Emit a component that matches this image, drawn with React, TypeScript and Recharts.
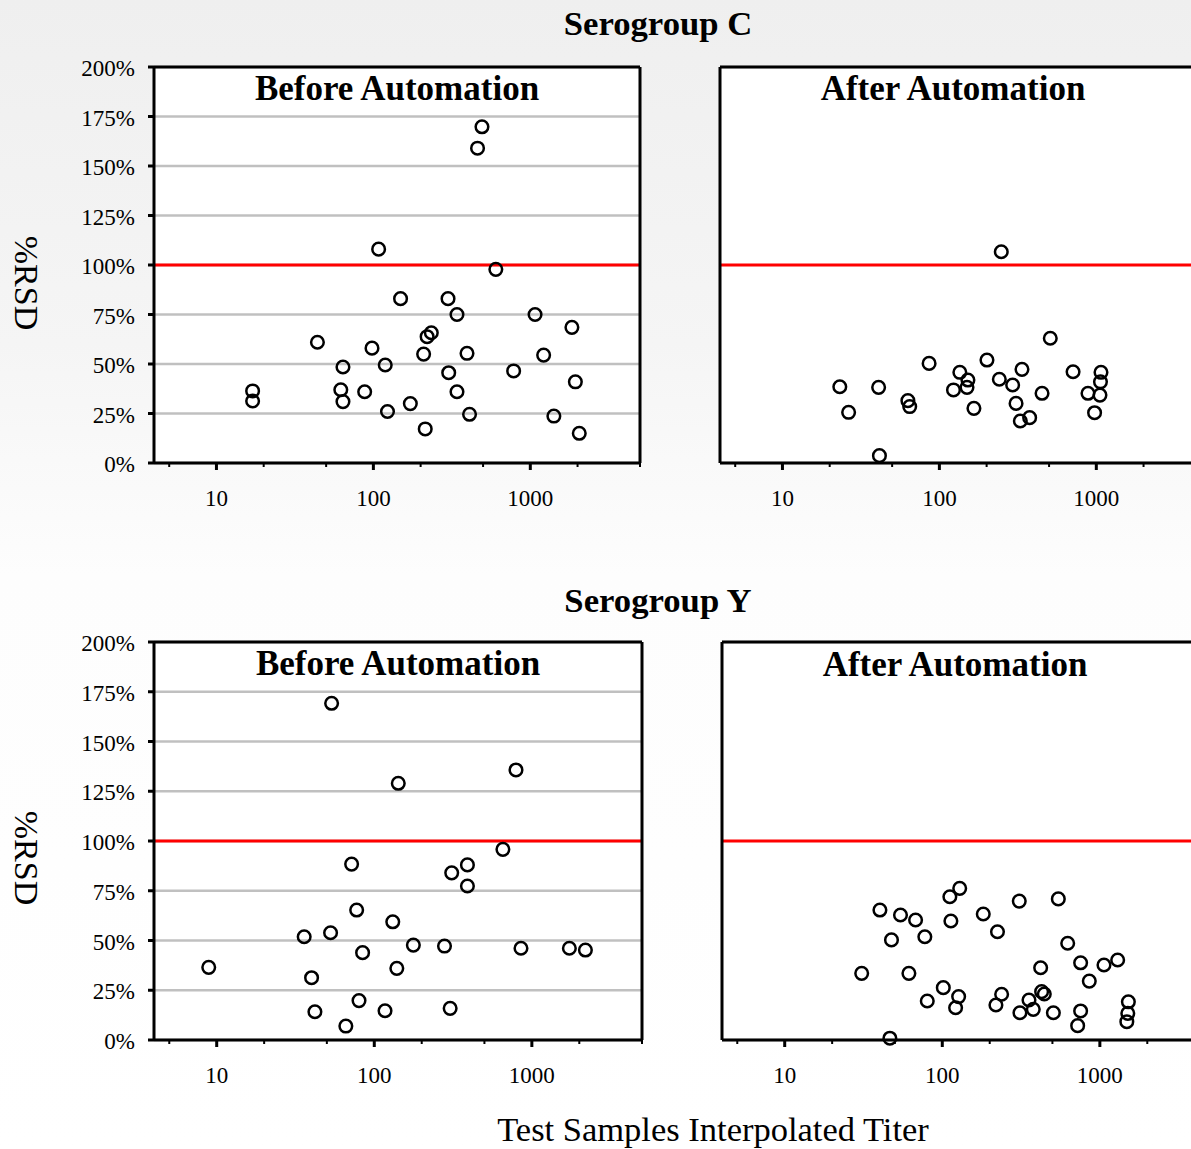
import React from 'react'
import {
  ScatterChart,
  Scatter,
  XAxis,
  YAxis,
  CartesianGrid,
  ReferenceLine,
} from 'recharts'

type Pt = { titer: number; rsd: number }

// Serogroup C, before automation
const cBefore: Pt[] = [
  { titer: 17, rsd: 36.4 }, { titer: 17, rsd: 31.3 }, { titer: 44, rsd: 61 },
  { titer: 64, rsd: 48.5 }, { titer: 62, rsd: 37 }, { titer: 64, rsd: 31 },
  { titer: 88, rsd: 36 }, { titer: 98, rsd: 58 }, { titer: 119, rsd: 49.5 },
  { titer: 123, rsd: 26 }, { titer: 149, rsd: 83 }, { titer: 299, rsd: 83 },
  { titer: 341, rsd: 75 }, { titer: 1072, rsd: 75 }, { titer: 1841, rsd: 68.5 },
  { titer: 234, rsd: 65.8 }, { titer: 220, rsd: 63.8 }, { titer: 209, rsd: 55 },
  { titer: 395, rsd: 55.4 }, { titer: 1216, rsd: 54.5 }, { titer: 302, rsd: 45.6 },
  { titer: 783, rsd: 46.5 }, { titer: 1937, rsd: 41 }, { titer: 341, rsd: 36 },
  { titer: 172, rsd: 30 }, { titer: 410, rsd: 24.6 }, { titer: 1413, rsd: 23.7 },
  { titer: 214, rsd: 17.2 }, { titer: 2051, rsd: 15 }, { titer: 492, rsd: 169.8 },
  { titer: 461, rsd: 159 }, { titer: 603, rsd: 97.8 }, { titer: 108, rsd: 108 },
]

// Serogroup C, after automation
const cAfter: Pt[] = [
  { titer: 23.2, rsd: 38.5 }, { titer: 26.4, rsd: 25.6 }, { titer: 41, rsd: 38.2 },
  { titer: 41.5, rsd: 3.7 }, { titer: 63, rsd: 31.5 }, { titer: 64.7, rsd: 28.5 },
  { titer: 86, rsd: 50.3 }, { titer: 123, rsd: 36.9 }, { titer: 135, rsd: 45.8 },
  { titer: 152, rsd: 41.9 }, { titer: 150, rsd: 38.2 }, { titer: 166, rsd: 27.6 },
  { titer: 201, rsd: 52 }, { titer: 241, rsd: 42.3 }, { titer: 293, rsd: 39.4 },
  { titer: 336, rsd: 47.3 }, { titer: 308, rsd: 30.1 }, { titer: 328, rsd: 21.2 },
  { titer: 376, rsd: 22.9 }, { titer: 451, rsd: 35.2 }, { titer: 509, rsd: 63 },
  { titer: 711, rsd: 46.1 }, { titer: 885, rsd: 35.2 }, { titer: 975, rsd: 25.4 },
  { titer: 1071, rsd: 45.8 }, { titer: 1063, rsd: 41 }, { titer: 1055, rsd: 34.3 },
  { titer: 248, rsd: 106.7 },
]

// Serogroup Y, before automation
const yBefore: Pt[] = [
  { titer: 8.9, rsd: 36.5 }, { titer: 35.9, rsd: 51.9 }, { titer: 40, rsd: 31.3 },
  { titer: 42, rsd: 14.2 }, { titer: 52.8, rsd: 53.9 }, { titer: 66, rsd: 7 },
  { titer: 77.3, rsd: 65.3 }, { titer: 84.3, rsd: 43.9 }, { titer: 80, rsd: 19.8 },
  { titer: 117, rsd: 14.7 }, { titer: 131, rsd: 59.4 }, { titer: 139, rsd: 36 },
  { titer: 71.8, rsd: 88.4 }, { titer: 310, rsd: 84 }, { titer: 390, rsd: 88 },
  { titer: 390, rsd: 77.4 }, { titer: 177, rsd: 47.7 }, { titer: 279, rsd: 47.2 },
  { titer: 853, rsd: 46.1 }, { titer: 1730, rsd: 46.1 }, { titer: 2187, rsd: 45.2 },
  { titer: 303, rsd: 15.9 }, { titer: 142, rsd: 129 }, { titer: 793, rsd: 135.7 },
  { titer: 655, rsd: 95.8 }, { titer: 53.6, rsd: 169.2 },
]

// Serogroup Y, after automation
const yAfter: Pt[] = [
  { titer: 30.8, rsd: 33.5 }, { titer: 40.2, rsd: 65.3 }, { titer: 47.6, rsd: 50.3 },
  { titer: 46.5, rsd: 0.9 }, { titer: 54.3, rsd: 62.8 }, { titer: 61.4, rsd: 33.5 },
  { titer: 67.7, rsd: 60.3 }, { titer: 77.5, rsd: 51.9 }, { titer: 80.3, rsd: 19.6 },
  { titer: 101.5, rsd: 26.3 }, { titer: 111.7, rsd: 72 }, { titer: 129, rsd: 76.2 },
  { titer: 113.4, rsd: 59.8 }, { titer: 127, rsd: 21.8 }, { titer: 121.5, rsd: 16.2 },
  { titer: 182, rsd: 63.3 }, { titer: 224, rsd: 54.4 }, { titer: 238, rsd: 23 },
  { titer: 219, rsd: 17.6 }, { titer: 308, rsd: 69.8 }, { titer: 311, rsd: 13.7 },
  { titer: 355, rsd: 20.1 }, { titer: 378, rsd: 15.4 }, { titer: 421, rsd: 36.3 },
  { titer: 427, rsd: 24.3 }, { titer: 444, rsd: 23.1 }, { titer: 507, rsd: 13.7 },
  { titer: 545, rsd: 70.9 }, { titer: 625, rsd: 48.6 }, { titer: 723, rsd: 7.2 },
  { titer: 755, rsd: 38.8 }, { titer: 755, rsd: 14.6 }, { titer: 857, rsd: 29.6 },
  { titer: 1062, rsd: 37.7 }, { titer: 1297, rsd: 40.2 }, { titer: 1517, rsd: 19.2 },
  { titer: 1504, rsd: 13.4 }, { titer: 1483, rsd: 9.2 },
]

const xTicks = [5, 10, 20, 50, 100, 200, 500, 1000, 2000, 5000]
const xLabelTicks = [10, 100, 1000]
const yTicks = [0, 25, 50, 75, 100, 125, 150, 175, 200]

const SERIF = "'Liberation Serif', 'Times New Roman', Times, serif"
const Y_W = 90
const TOP = 10
const RIGHT = 10
const X_H = 60

const ring = (p: any) => (
  <circle cx={p.cx} cy={p.cy} r={6.3} fill="none" stroke="#000" strokeWidth={2.5} />
)

const XTick = (props: any) => {
  const { x, payload, axisY } = props
  const major = xLabelTicks.includes(payload.value)
  return (
    <g>
      <line
        x1={x} x2={x} y1={axisY} y2={axisY + (major ? 7 : 4)}
        stroke="#000" strokeWidth={major ? 3 : 2}
      />
      {major && (
        <text x={x} y={axisY + 43} textAnchor="middle" fontSize={23} fontFamily={SERIF} fill="#000">
          {payload.value}
        </text>
      )}
    </g>
  )
}

const YTick = (props: any) => {
  const { x, y, payload } = props
  return (
    <text x={x} y={y + 9} textAnchor="end" fontSize={23} fontFamily={SERIF} fill="#000">
      {payload.value}%
    </text>
  )
}

type PanelProps = {
  data: Pt[]
  left: number
  top: number
  w: number
  h: number
  labels: boolean
  rightBorder: boolean
}

function Panel({ data, left, top, w, h, labels, rightBorder }: PanelProps) {
  const axisY = TOP + h
  return (
    <div style={{ position: 'absolute', left: left - Y_W, top: top - TOP }}>
      <ScatterChart
        width={Y_W + w + RIGHT}
        height={TOP + h + X_H}
        margin={{ top: TOP, right: RIGHT, bottom: 0, left: 0 }}
      >
        <CartesianGrid vertical={false} stroke="#c0c0c0" strokeWidth={2.5} fill="#ffffff" fillOpacity={1} />
        <XAxis
          type="number"
          dataKey="titer"
          scale="log"
          domain={[4, 5000]}
          allowDataOverflow
          ticks={xTicks}
          interval={0}
          height={X_H}
          tickLine={false}
          axisLine={{ stroke: '#000', strokeWidth: 3 }}
          tick={(p: any) => <XTick {...p} axisY={axisY} />}
        />
        <YAxis
          type="number"
          dataKey="rsd"
          domain={[0, 200]}
          ticks={yTicks}
          interval={0}
          width={Y_W}
          tickSize={6}
          tickMargin={13}
          axisLine={{ stroke: '#000', strokeWidth: 3 }}
          tickLine={{ stroke: '#000', strokeWidth: 3 }}
          tick={labels ? (p: any) => <YTick {...p} /> : false}
        />
        <ReferenceLine y={100} stroke="#ff0000" strokeWidth={3} />
        <ReferenceLine y={200} stroke="#000" strokeWidth={3} />
        {rightBorder && <ReferenceLine x={5000} stroke="#000" strokeWidth={3} />}
        <Scatter data={data} isAnimationActive={false} shape={ring} />
      </ScatterChart>
    </div>
  )
}

export default function App() {
  return (
    <div
      style={{
        position: 'absolute',
        left: 0,
        top: 0,
        width: 1191,
        height: 1149,
        overflow: 'hidden',
        background: 'linear-gradient(180deg, #efefef 0%, #f5f5f5 30%, #fdfdfd 50%, #ffffff 100%)',
      }}
    >
      <Panel data={cBefore} left={154} top={67} w={486} h={396} labels rightBorder />
      <Panel data={cAfter} left={720} top={67} w={486} h={396} labels={false} rightBorder={false} />
      <Panel data={yBefore} left={154} top={642} w={488} h={398} labels rightBorder />
      <Panel data={yAfter} left={722} top={642} w={488} h={398} labels={false} rightBorder={false} />

      <svg
        width={1191}
        height={1149}
        style={{ position: 'absolute', left: 0, top: 0, pointerEvents: 'none' }}
        fontFamily={SERIF}
      >
        <text x={658} y={34.5} textAnchor="middle" fontSize={34.7} fontWeight="bold">Serogroup C</text>
        <text x={658} y={612} textAnchor="middle" fontSize={34.7} fontWeight="bold">Serogroup Y</text>
        <text x={397} y={99.5} textAnchor="middle" fontSize={35} fontWeight="bold">Before Automation</text>
        <text x={953} y={100} textAnchor="middle" fontSize={35} fontWeight="bold">After Automation</text>
        <text x={398} y={674.5} textAnchor="middle" fontSize={35} fontWeight="bold">Before Automation</text>
        <text x={955} y={676} textAnchor="middle" fontSize={35} fontWeight="bold">After Automation</text>
        <text transform="translate(15 283) rotate(90)" textAnchor="middle" fontSize={34}>%RSD</text>
        <text transform="translate(15 858) rotate(90)" textAnchor="middle" fontSize={34}>%RSD</text>
        <text x={713} y={1141} textAnchor="middle" fontSize={34.5}>Test Samples Interpolated Titer</text>
      </svg>
    </div>
  )
}
